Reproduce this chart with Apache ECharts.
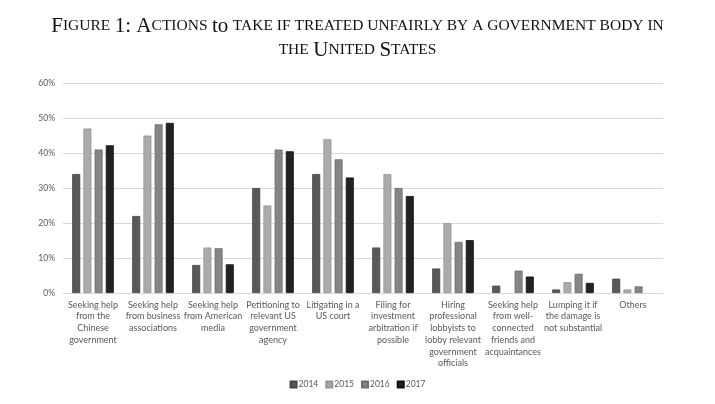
<!DOCTYPE html>
<html>
<head>
<meta charset="utf-8">
<script src="https://cdn.jsdelivr.net/npm/echarts@6/dist/echarts.min.js"></script>
<style>html,body{margin:0;padding:0;background:#fff;}#c{width:715px;height:404px;}</style>
</head>
<body>
<div id="c"></div>
<script>
var categories = [
  "Seeking help\nfrom the\nChinese\ngovernment",
  "Seeking help\nfrom business\nassociations",
  "Seeking help\nfrom American\nmedia",
  "Petitioning to\nrelevant US\ngovernment\nagency",
  "Litigating in a\nUS court",
  "Filing for\ninvestment\narbitration if\npossible",
  "Hiring\nprofessional\nlobbyists to\nlobby relevant\ngovernment\nofficials",
  "Seeking help\nfrom well-\nconnected\nfriends and\nacquaintances",
  "Lumping it if\nthe damage is\nnot substantial",
  "Others"
];
var seriesNames = ["2014", "2015", "2016", "2017"];
var v2014 = [34, 22, 8, 30, 34, 13, 7, 2.1, 1, 4.1];
var v2015 = [47, 45, 13, 25, 44, 34, 20, null, 3.1, 1];
var v2016 = [41, 48.2, 12.8, 41, 38.2, 30, 14.6, 6.4, 5.5, 1.9];
var v2017 = [42.2, 48.6, 8.2, 40.5, 33, 27.7, 15.1, 4.7, 2.9, null];
var yTicks = [0, 10, 20, 30, 40, 50, 60];

var fills = ["#595959", "#ababab", "#858585", "#222222"];
var borders = ["#444444", "#969696", "#6e6e6e", "#111111"];
var values = [v2014, v2015, v2016, v2017];

var chart = echarts.init(document.getElementById('c'), null, {renderer: 'canvas'});
var series = seriesNames.map(function (n, i) {
  return {
    name: n,
    type: 'bar',
    data: values[i],
    barWidth: 8,
    barGap: '40%',
    itemStyle: {color: fills[i], borderColor: borders[i], borderWidth: 0.8}
  };
});

chart.setOption({
  animation: false,
  title: {
    left: 'center',
    top: 9,
    text: '{b|F}{s|IGURE} {b|1: A}{s|CTIONS} {b|to} {s|TAKE IF TREATED UNFAIRLY BY A GOVERNMENT BODY IN}\n{s|THE} {b|U}{s|NITED} {b|S}{s|TATES}',
    textStyle: {
      fontFamily: 'Liberation Serif',
      fontWeight: 'normal',
      color: '#111',
      lineHeight: 24,
      rich: {
        b: {fontFamily: 'Liberation Serif', fontWeight: 'normal', fontSize: 21, color: '#111', lineHeight: 24},
        s: {fontFamily: 'Liberation Serif', fontWeight: 'normal', fontSize: 15.5, color: '#111', lineHeight: 24}
      }
    }
  },
  legend: {
    bottom: 10,
    left: 'center',
    icon: 'rect',
    itemWidth: 6,
    itemHeight: 6,
    itemGap: 7,
    textStyle: {fontFamily: 'Lato', fontSize: 8.5, color: '#595959', padding: [0, 0, 0, -3]},
    data: seriesNames
  },
  grid: {left: 63, right: 52, top: 83, bottom: 111, containLabel: false},
  xAxis: {
    type: 'category',
    data: categories,
    axisTick: {show: false},
    axisLine: {lineStyle: {color: '#d9d9d9', width: 1}},
    axisLabel: {
      interval: 0,
      fontFamily: 'Lato',
      fontSize: 9,
      color: '#595959',
      lineHeight: 11.7,
      margin: 6
    }
  },
  yAxis: {
    type: 'value',
    min: yTicks[0],
    max: yTicks[yTicks.length - 1],
    interval: 10,
    axisLine: {show: false},
    axisTick: {show: false},
    splitLine: {lineStyle: {color: '#d9d9d9', width: 1}},
    axisLabel: {
      formatter: '{value}%',
      fontFamily: 'Lato',
      fontSize: 8.5,
      color: '#595959',
      margin: 8
    }
  },
  series: series
});
</script>
</body>
</html>
